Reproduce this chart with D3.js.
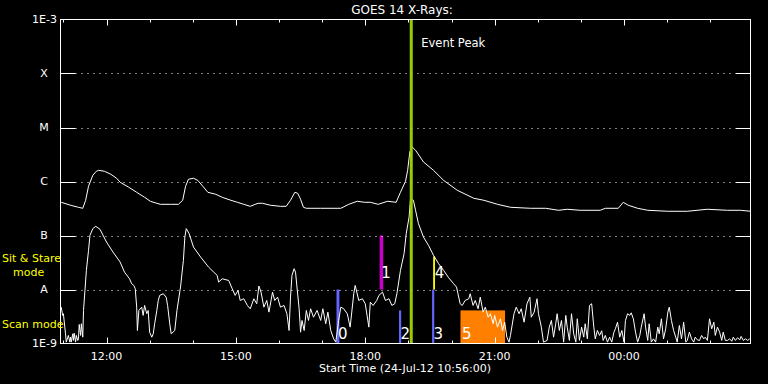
<!DOCTYPE html>
<html>
<head>
<meta charset="utf-8">
<script src="https://cdn.jsdelivr.net/npm/d3@7"></script>
<style>
body { margin: 0; background: #000; }
svg { display: block; }
text { font-family: 'DejaVu Sans', sans-serif; fill: #fff; }
</style>
</head>
<body>
<div id="chart"></div>
<script>
var startTime = new Date(2012, 6, 24, 10, 56, 0)
var endTime = new Date(2012, 6, 25, 2, 56, 0)
var peakMinute = 488

var classNames = ['1E-9', 'A', 'B', 'C', 'M', 'X', '1E-3']
var classFlux = [1e-9, 1e-8, 1e-7, 1e-6, 1e-5, 1e-4, 1e-3]

// 1-8 A channel, minutes after start time
var longMinutes = [1, 14, 25, 31, 35, 39, 45, 50, 53, 61,
    70, 78, 83, 95, 106, 117, 125, 134, 139, 153,
    164, 170, 174, 178, 185, 191, 198, 205, 216, 225,
    237, 246, 255, 264, 271, 275, 281, 292, 306, 314,
    320, 326, 330, 334, 338, 342, 362, 390, 401, 413,
    423, 431, 442, 455, 467, 473, 480, 483, 486, 489,
    494, 505, 519, 533, 552, 575, 589, 608, 626, 654,
    675, 693, 705, 723, 751, 758, 776, 783, 790, 803,
    817, 845, 872, 900, 928, 946, 960]
var longFlux = [4.12e-7, 3.63e-7, 3.33e-7, 3.19e-7, 4.49e-7, 8.17e-7, 1.31e-6, 1.55e-6, 1.61e-6, 1.55e-6,
    1.36e-6, 1.15e-6, 9.68e-7, 7.82e-7, 6.31e-7, 5.10e-7, 4.30e-7, 3.95e-7, 3.78e-7, 3.78e-7,
    3.78e-7, 4.49e-7, 8.17e-7, 1.10e-6, 1.15e-6, 1.05e-6, 8.17e-7, 6.31e-7, 5.80e-7, 5.10e-7,
    4.49e-7, 4.12e-7, 3.78e-7, 3.47e-7, 3.78e-7, 3.95e-7, 3.95e-7, 3.63e-7, 3.47e-7, 3.47e-7,
    4.49e-7, 6.31e-7, 6.05e-7, 4.69e-7, 3.33e-7, 3.19e-7, 3.19e-7, 3.19e-7, 3.78e-7, 4.30e-7,
    4.12e-7, 4.12e-7, 3.78e-7, 4.30e-7, 4.12e-7, 6.31e-7, 1.01e-6, 1.61e-6, 3.53e-6, 4.38e-6,
    3.79e-6, 2.30e-6, 1.61e-6, 1.05e-6, 6.88e-7, 4.89e-7, 4.49e-7, 3.78e-7, 3.33e-7, 3.19e-7,
    3.19e-7, 2.93e-7, 3.06e-7, 2.93e-7, 2.93e-7, 3.19e-7, 3.19e-7, 4.12e-7, 3.63e-7, 3.19e-7,
    2.93e-7, 2.81e-7, 2.81e-7, 3.06e-7, 2.93e-7, 2.93e-7, 2.81e-7]

// 0.5-4 A channel
var shortMinutes = [1, 3, 4, 6, 7, 8, 11, 13, 14, 15,
    17, 18, 19, 21, 22, 24, 25, 26, 28, 29,
    31, 32, 34, 36, 39, 41, 45, 49, 55, 64,
    73, 83, 89, 96, 99, 102, 104, 106, 107, 109,
    113, 115, 117, 120, 122, 124, 127, 129, 131, 134,
    136, 138, 143, 147, 149, 152, 154, 159, 162, 167,
    171, 173, 175, 179, 185, 195, 206, 218, 220, 225,
    234, 239, 243, 247, 250, 255, 260, 264, 269, 273,
    276, 279, 283, 287, 290, 295, 298, 302, 306, 311,
    315, 318, 320, 322, 325, 327, 329, 332, 334, 336,
    339, 342, 345, 348, 352, 357, 362, 365, 369, 372,
    376, 380, 383, 387, 390, 394, 399, 403, 408, 410,
    415, 420, 424, 429, 431, 435, 440, 443, 448, 452,
    457, 461, 465, 468, 473, 478, 481, 485, 487, 491,
    494, 498, 505, 512, 519, 526, 533, 540, 547, 551,
    553, 556, 559, 563, 568, 570, 574, 577, 581, 584,
    588, 591, 595, 598, 602, 604, 608, 612, 615, 618,
    621, 624, 626, 631, 634, 638, 641, 645, 649, 653,
    655, 659, 663, 665, 669, 672, 677, 680, 683, 686,
    689, 691, 694, 697, 700, 703, 705, 708, 711, 714,
    717, 719, 722, 725, 728, 730, 733, 736, 739, 742,
    744, 747, 750, 753, 755, 758, 761, 764, 767, 770,
    772, 775, 778, 781, 784, 786, 789, 792, 794, 797,
    800, 803, 806, 808, 812, 814, 817, 819, 822, 825,
    828, 831, 833, 836, 839, 842, 845, 847, 850, 853,
    856, 858, 861, 864, 867, 870, 872, 875, 878, 881,
    883, 886, 889, 892, 895, 897, 900, 903, 906, 909,
    911, 914, 917, 920, 922, 925, 928, 931, 934, 936,
    939, 942, 945, 947, 950, 953, 956, 959]
var shortFlux = [4.71e-9, 3.31e-9, 3.56e-9, 2.01e-9, 1.51e-9, 1.06e-9, 1.41e-9, 1.06e-9, 1.31e-9, 1.06e-9,
    1.51e-9, 1.14e-9, 1.55e-9, 1.06e-9, 1.41e-9, 1.14e-9, 1.22e-9, 2.25e-9, 1.41e-9, 2.32e-9,
    1.31e-9, 4.09e-9, 9.61e-9, 2.26e-8, 5.31e-8, 1.01e-7, 1.34e-7, 1.48e-7, 1.30e-7, 7.56e-8,
    4.94e-8, 3.22e-8, 2.10e-8, 1.58e-8, 1.28e-8, 1.19e-8, 1.03e-8, 4.71e-9, 1.74e-9, 4.09e-9,
    4.71e-9, 3.31e-9, 5.07e-9, 3.56e-9, 4.09e-9, 1.62e-9, 1.31e-9, 1.51e-9, 2.32e-9, 4.09e-9,
    6.27e-9, 7.77e-9, 8.35e-9, 7.22e-9, 5.07e-9, 2.32e-9, 1.51e-9, 1.74e-9, 4.09e-9, 1.11e-8,
    3.46e-8, 9.36e-8, 1.34e-7, 1.08e-7, 6.11e-8, 3.99e-8, 2.60e-8, 1.82e-8, 1.37e-8, 1.58e-8,
    1.47e-8, 1.03e-8, 7.77e-9, 9.61e-9, 6.27e-9, 6.74e-9, 5.07e-9, 4.40e-9, 6.74e-9, 5.45e-9,
    1.16e-8, 8.94e-9, 4.71e-9, 6.27e-9, 3.81e-9, 8.94e-9, 6.27e-9, 7.22e-9, 4.71e-9, 5.07e-9,
    3.56e-9, 1.74e-9, 7.22e-9, 1.82e-8, 2.43e-8, 2.10e-8, 1.11e-8, 4.40e-9, 1.62e-9, 2.67e-9,
    1.74e-9, 4.09e-9, 2.67e-9, 4.40e-9, 3.07e-9, 4.09e-9, 2.67e-9, 4.40e-9, 2.32e-9, 3.81e-9,
    1.74e-9, 1.22e-9, 1.06e-9, 2.67e-9, 4.71e-9, 4.40e-9, 3.56e-9, 2.01e-9, 8.35e-9, 1.19e-8,
    6.27e-9, 6.74e-9, 5.45e-9, 2.01e-9, 5.83e-9, 5.07e-9, 6.27e-9, 7.77e-9, 8.94e-9, 6.27e-9,
    6.74e-9, 5.07e-9, 5.45e-9, 8.35e-9, 2.26e-8, 4.61e-8, 1.08e-7, 2.20e-7, 4.83e-7, 4.49e-7,
    2.93e-7, 1.66e-7, 9.36e-8, 6.57e-8, 4.29e-8, 3.01e-8, 2.26e-8, 1.65e-8, 1.28e-8, 1.11e-8,
    8.35e-9, 5.45e-9, 5.07e-9, 6.27e-9, 6.74e-9, 8.35e-9, 5.07e-9, 6.27e-9, 4.40e-9, 7.22e-9,
    3.81e-9, 4.71e-9, 3.07e-9, 3.56e-9, 2.32e-9, 3.31e-9, 2.01e-9, 2.87e-9, 1.74e-9, 2.48e-9,
    1.31e-9, 1.06e-9, 1.41e-9, 3.56e-9, 4.71e-9, 3.56e-9, 4.40e-9, 2.48e-9, 5.45e-9, 7.22e-9,
    3.07e-9, 3.81e-9, 6.74e-9, 3.56e-9, 2.01e-9, 1.06e-9, 1.14e-9, 2.01e-9, 2.67e-9, 1.31e-9,
    2.32e-9, 3.56e-9, 1.74e-9, 2.67e-9, 1.06e-9, 3.31e-9, 2.01e-9, 1.14e-9, 3.56e-9, 1.51e-9,
    1.06e-9, 2.87e-9, 1.14e-9, 2.01e-9, 1.31e-9, 2.32e-9, 1.22e-9, 5.07e-9, 5.45e-9, 2.01e-9,
    1.22e-9, 1.74e-9, 1.41e-9, 1.72e-9, 1.14e-9, 1.41e-9, 1.06e-9, 1.31e-9, 1.06e-9, 1.62e-9,
    1.87e-9, 2.48e-9, 1.31e-9, 1.74e-9, 1.06e-9, 2.67e-9, 3.56e-9, 3.31e-9, 3.70e-9, 2.87e-9,
    1.62e-9, 1.06e-9, 1.41e-9, 2.01e-9, 3.56e-9, 2.01e-9, 1.14e-9, 2.32e-9, 1.06e-9, 1.22e-9,
    1.06e-9, 2.01e-9, 1.51e-9, 2.87e-9, 1.22e-9, 1.87e-9, 3.81e-9, 4.71e-9, 2.67e-9, 1.74e-9,
    1.31e-9, 1.06e-9, 2.16e-9, 1.22e-9, 2.48e-9, 1.06e-9, 1.14e-9, 1.62e-9, 1.22e-9, 1.06e-9,
    1.31e-9, 1.17e-9, 1.14e-9, 1.41e-9, 1.22e-9, 1.31e-9, 1.14e-9, 2.87e-9, 1.87e-9, 2.48e-9,
    1.41e-9, 2.01e-9, 1.62e-9, 1.14e-9, 1.62e-9, 1.14e-9, 1.14e-9, 1.22e-9, 1.10e-9, 1.31e-9,
    1.14e-9, 1.28e-9, 1.17e-9, 1.35e-9, 1.14e-9, 1.22e-9, 1.14e-9, 1.22e-9]

// observations (minutes after start, flux range)
var obsLabels = ['0', '1', '2', '3', '4', '5']
var obsStart = [384, 444, 471, 517, 518.5, 556.5]
var obsEnd = [388, 449, 474, 520, 521, 618.5]
var obsLow = [1e-9, 1e-8, 1e-9, 1e-9, 1e-8, 1e-9]
var obsHigh = [1e-8, 1e-7, 4.1e-9, 1e-8, 4.1e-8, 4.1e-9]
var obsColors = { '0': '#6464ff', '1': '#c800c8', '2': '#6464ff', '3': '#6464ff', '4': '#ffff00', '5': '#ff8000' }

var width = 768
var height = 384
var plotLeft = 60.5, plotRight = 750.5, plotTop = 19.5, plotBottom = 343.5

function minuteToDate(m) {
    return new Date(startTime.getTime() + m * 60000)
}

var x = d3.scaleTime().domain([startTime, endTime]).range([plotLeft, plotRight])
var y = d3.scaleLog().domain([1e-9, 1e-3]).range([plotBottom, plotTop]).clamp(true)

var svg = d3.select('#chart').append('svg')
    .attr('width', width)
    .attr('height', height)
    .style('background', '#000')

// observation bars
var obs = obsLabels.map(function (d, i) {
    return { label: d, start: obsStart[i], end: obsEnd[i], low: obsLow[i], high: obsHigh[i] }
})

svg.append('g')
    .selectAll('rect')
    .data(obs)
    .join('rect')
    .attr('x', (d) => x(minuteToDate(d.start)))
    .attr('width', (d) => x(minuteToDate(d.end)) - x(minuteToDate(d.start)))
    .attr('y', (d) => y(d.high))
    .attr('height', (d) => y(d.low) - y(d.high))
    .attr('fill', (d) => obsColors[d.label])

// grid lines at flare classes
var inner = classFlux.slice(1, classFlux.length - 1)
var grid = svg.append('g').attr('stroke', '#fff').attr('stroke-width', 1)
grid.selectAll('line.dot')
    .data(inner)
    .join('line')
    .attr('class', 'dot')
    .attr('x1', plotLeft + 15)
    .attr('x2', plotRight - 15)
    .attr('y1', (d) => Math.round(y(d)) + 0.5)
    .attr('y2', (d) => Math.round(y(d)) + 0.5)
    .attr('stroke-dasharray', '1,5')
grid.selectAll('line.lt')
    .data(inner)
    .join('line')
    .attr('class', 'lt')
    .attr('x1', plotLeft)
    .attr('x2', plotLeft + 15)
    .attr('y1', (d) => Math.round(y(d)) + 0.5)
    .attr('y2', (d) => Math.round(y(d)) + 0.5)
grid.selectAll('line.rt')
    .data(inner)
    .join('line')
    .attr('class', 'rt')
    .attr('x1', plotRight - 15)
    .attr('x2', plotRight)
    .attr('y1', (d) => Math.round(y(d)) + 0.5)
    .attr('y2', (d) => Math.round(y(d)) + 0.5)

// curves
var line = d3.line()
    .x((d) => x(minuteToDate(d[0])))
    .y((d) => y(d[1]))

svg.append('path')
    .datum(longMinutes.map((m, i) => [m, longFlux[i]]))
    .attr('fill', 'none')
    .attr('stroke', '#fff')
    .attr('stroke-width', 1)
    .attr('d', line)

svg.append('path')
    .datum(shortMinutes.map((m, i) => [m, shortFlux[i]]))
    .attr('fill', 'none')
    .attr('stroke', '#fff')
    .attr('stroke-width', 1)
    .attr('d', line)

// event peak
svg.append('line')
    .attr('x1', x(minuteToDate(peakMinute)))
    .attr('x2', x(minuteToDate(peakMinute)))
    .attr('y1', plotTop)
    .attr('y2', plotBottom)
    .attr('stroke', '#9acd00')
    .attr('stroke-width', 3)

svg.append('text')
    .attr('x', x(minuteToDate(peakMinute)) + 10)
    .attr('y', 47)
    .style('font-size', '11.5px')
    .text('Event Peak')

// obs labels
svg.append('g')
    .selectAll('text')
    .data(obs)
    .join('text')
    .attr('x', (d) => x(minuteToDate(d.start)) + 1.5)
    .attr('y', (d) => y(d.low) - (d.low > 1e-9 ? 12 : 5))
    .style('font-size', '15px')
    .text((d) => d.label)

// frame
svg.append('rect')
    .attr('x', plotLeft)
    .attr('y', plotTop)
    .attr('width', plotRight - plotLeft)
    .attr('height', plotBottom - plotTop)
    .attr('fill', 'none')
    .attr('stroke', '#fff')
    .attr('stroke-width', 1)

// time ticks
var hours = x.ticks(d3.timeHour.every(1))
var fmt = d3.timeFormat('%H:%M')
var ticks = svg.append('g').attr('stroke', '#fff')
ticks.selectAll('line.top')
    .data(hours)
    .join('line')
    .attr('class', 'top')
    .attr('x1', (d) => Math.round(x(d)) + 0.5)
    .attr('x2', (d) => Math.round(x(d)) + 0.5)
    .attr('y1', plotTop)
    .attr('y2', (d) => plotTop + (d.getHours() % 3 == 0 ? 6 : 3))
ticks.selectAll('line.bot')
    .data(hours)
    .join('line')
    .attr('class', 'bot')
    .attr('x1', (d) => Math.round(x(d)) + 0.5)
    .attr('x2', (d) => Math.round(x(d)) + 0.5)
    .attr('y1', plotBottom)
    .attr('y2', (d) => plotBottom - (d.getHours() % 3 == 0 ? 6 : 3))

svg.append('g')
    .selectAll('text')
    .data(hours.filter((d) => d.getHours() % 3 == 0))
    .join('text')
    .attr('x', (d) => x(d))
    .attr('y', 359.5)
    .attr('text-anchor', 'middle')
    .style('font-size', '11px')
    .text((d) => fmt(d))

// y labels
svg.append('g')
    .selectAll('text')
    .data(classFlux)
    .join('text')
    .attr('x', (d, i) => (classNames[i].length > 1 ? 57 : 44))
    .attr('y', (d) => y(d))
    .attr('dy', '0.36em')
    .attr('text-anchor', (d, i) => (classNames[i].length > 1 ? 'end' : 'middle'))
    .style('font-size', '11px')
    .text((d, i) => classNames[i])

// titles
svg.append('text')
    .attr('x', 402)
    .attr('y', 13.5)
    .attr('text-anchor', 'middle')
    .style('font-size', '12px')
    .text('GOES 14 X-Rays:')

svg.append('text')
    .attr('x', 405)
    .attr('y', 372)
    .attr('text-anchor', 'middle')
    .style('font-size', '11px')
    .text('Start Time (' + d3.timeFormat('%d-%b-%y %H:%M:%S')(startTime) + ')')

var modes = svg.append('g').style('font-size', '11px')
modes.append('text').attr('x', 2).attr('y', 262).style('fill', '#ffff00').text('Sit & Stare')
modes.append('text').attr('x', 13).attr('y', 276).style('fill', '#ffff00').text('mode')
modes.append('text').attr('x', 2).attr('y', 327.5).style('fill', '#ffff00').text('Scan mode')
</script>
</body>
</html>
